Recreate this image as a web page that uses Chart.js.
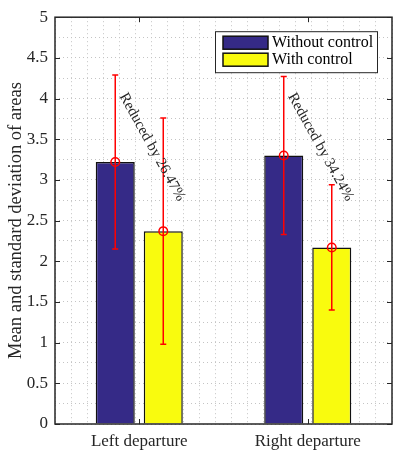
<!DOCTYPE html>
<html>
<head>
<meta charset="utf-8">
<script src="https://cdn.jsdelivr.net/npm/chart.js@4.4.1/dist/chart.umd.min.js"></script>
<style>
  html, body { margin: 0; padding: 0; background: #fff; }
  #wrap { width: 399px; height: 454px; }
</style>
</head>
<body>
<div id="wrap"><canvas id="chart"></canvas></div>
<script>
// data
const categories = ['Left departure', 'Right departure'];
const seriesNames = ['Without control', 'With control'];
const withoutMean = [3.22, 3.30];
const withMean = [2.37, 2.17];
const withoutSd = [1.07, 0.97];
const withSd = [1.39, 0.77];
const reductionLabels = ['Reduced by 26.47%', 'Reduced by 34.24%'];
const yTickValues = [0, 0.5, 1, 1.5, 2, 2.5, 3, 3.5, 4, 4.5, 5];

const serif = '"Liberation Serif", "Times New Roman", serif';
const textColor = '#262626';
const blue = '#352a87';
const yellow = '#f9fb0e';

// error bars + circle markers on top of the bars
const errorBars = {
  id: 'errorBars',
  afterDatasetsDraw(chart) {
    const ctx = chart.ctx;
    const y = chart.scales.y;
    const sds = [withoutSd, withSd];
    ctx.save();
    ctx.strokeStyle = '#ff0000';
    ctx.lineWidth = 1.5;
    chart.data.datasets.forEach((ds, d) => {
      chart.getDatasetMeta(d).data.forEach((bar, i) => {
        const mean = ds.data[i];
        const yt = y.getPixelForValue(mean + sds[d][i]);
        const yb = y.getPixelForValue(mean - sds[d][i]);
        const ym = y.getPixelForValue(mean);
        ctx.beginPath();
        ctx.moveTo(bar.x, yt); ctx.lineTo(bar.x, yb);
        ctx.moveTo(bar.x - 3, yt); ctx.lineTo(bar.x + 3, yt);
        ctx.moveTo(bar.x - 3, yb); ctx.lineTo(bar.x + 3, yb);
        ctx.stroke();
        ctx.beginPath();
        ctx.arc(bar.x, ym, 4.3, 0, Math.PI * 2);
        ctx.stroke();
      });
    });
    // rotated notes next to the "without control" bars
    const meta = chart.getDatasetMeta(0);
    ctx.fillStyle = textColor;
    ctx.font = '15px ' + serif;
    ctx.textAlign = 'left';
    ctx.textBaseline = 'top';
    meta.data.forEach((bar, i) => {
      ctx.save();
      ctx.translate(bar.x + 14, y.getPixelForValue(4.1));
      ctx.rotate(61 * Math.PI / 180);
      ctx.fillText(reductionLabels[i], 0, 0);
      ctx.restore();
    });
    ctx.restore();
  }
};

// matlab style box, inward ticks and legend
const axesBox = {
  id: 'axesBox',
  afterDraw(chart) {
    const ctx = chart.ctx;
    const a = chart.chartArea;
    const y = chart.scales.y;
    const x = chart.scales.x;
    ctx.save();
    ctx.strokeStyle = textColor;
    ctx.lineWidth = 1.5;
    ctx.strokeRect(a.left, a.top, a.right - a.left, a.bottom - a.top);
    ctx.lineWidth = 1;
    ctx.beginPath();
    yTickValues.forEach(v => {
      const py = Math.round(y.getPixelForValue(v)) + 0.5;
      ctx.moveTo(a.left, py); ctx.lineTo(a.left + 5, py);
      ctx.moveTo(a.right, py); ctx.lineTo(a.right - 5, py);
    });
    categories.forEach((c, i) => {
      const px = Math.round(x.getPixelForValue(i)) + 0.5;
      ctx.moveTo(px, a.bottom); ctx.lineTo(px, a.bottom - 5);
      ctx.moveTo(px, a.top); ctx.lineTo(px, a.top + 5);
    });
    ctx.stroke();

    // legend
    const lx = a.right - 177, ly = a.top + 14, lw = 162, lh = 41;
    ctx.fillStyle = '#fff';
    ctx.fillRect(lx, ly, lw, lh);
    ctx.strokeStyle = textColor;
    ctx.lineWidth = 1;
    ctx.strokeRect(lx + 0.5, ly + 0.5, lw, lh);
    ctx.font = '16px ' + serif;
    ctx.textBaseline = 'middle';
    ctx.textAlign = 'left';
    chart.data.datasets.forEach((ds, d) => {
      const ry = ly + 5 + d * 17;
      ctx.fillStyle = ds.backgroundColor;
      ctx.fillRect(lx + 8, ry, 45, 13);
      ctx.strokeStyle = '#111';
      ctx.lineWidth = 1.5;
      ctx.strokeRect(lx + 8, ry, 45, 13);
      ctx.fillStyle = '#000';
      ctx.fillText(ds.label, lx + 57, ry + 7);
    });
    ctx.restore();
  }
};

const dotted = { display: false, dash: [1, 3] };

new Chart(document.getElementById('chart'), {
  type: 'bar',
  data: {
    labels: categories,
    datasets: [
      { label: seriesNames[0], data: withoutMean, backgroundColor: blue, borderColor: '#111', borderWidth: 1.5 },
      { label: seriesNames[1], data: withMean, backgroundColor: yellow, borderColor: '#111', borderWidth: 1.5 }
    ]
  },
  options: {
    responsive: true,
    maintainAspectRatio: false,
    animation: false,
    categoryPercentage: 0.57,
    barPercentage: 0.8125,
    layout: { padding: { top: 13, right: 7, left: 0, bottom: 0 } },
    plugins: {
      legend: { display: false },
      tooltip: { enabled: false }
    },
    scales: {
      x: {
        type: 'category',
        grid: { display: false, drawTicks: false },
        border: { display: false },
        ticks: { color: textColor, font: { family: serif, size: 17 }, padding: 7, maxRotation: 0 },
        afterFit: s => { s.height = 30; }
      },
      xg: {
        type: 'linear',
        position: 'bottom',
        min: 0.5,
        max: 2.5,
        ticks: { display: false, stepSize: 0.1 },
        grid: { color: '#c4c4c4', drawTicks: false },
        border: dotted,
        afterFit: s => { s.height = 0; }
      },
      y: {
        min: 0,
        max: 5,
        ticks: {
          stepSize: 0.25,
          autoSkip: false,
          color: textColor,
          padding: 7,
          font: { family: serif, size: 17 },
          callback: v => (Math.abs(v * 2 - Math.round(v * 2)) < 1e-6 ? String(v) : '')
        },
        grid: { color: '#c4c4c4', drawTicks: false },
        border: dotted,
        title: {
          display: true,
          text: 'Mean and standard deviation of areas',
          color: textColor,
          font: { family: serif, size: 18.5 },
          padding: { top: 5.5, bottom: 0 }
        },
        afterFit: s => { s.width = 55; }
      }
    }
  },
  plugins: [errorBars, axesBox]
});
</script>
</body>
</html>
